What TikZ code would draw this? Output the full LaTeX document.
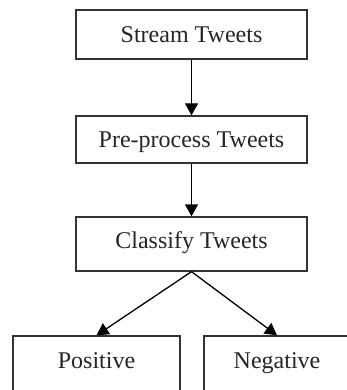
\documentclass[tikz,border=0pt]{standalone}
\usepackage{fontspec}
\setmainfont{Liberation Serif}
\usetikzlibrary{arrows.meta}
\begin{document}
\begin{tikzpicture}[x=1pt,y=-1pt,
  box/.style={draw=black!80,line width=1.3pt,fill=white,inner sep=0pt,
    font=\fontsize{24}{28}\selectfont,text=black!85,text height=16pt,text depth=0pt},
  conn/.style={draw=black,line width=1.3pt,-{Triangle[width=13pt,length=12pt]}}]
\clip (0,0) rectangle (347,390);
\fill[white] (0,0) rectangle (347,390);
\node[box,minimum width=231pt,minimum height=49pt] (a) at (191.5,34.5) {Stream Tweets};
\node[box,minimum width=231pt,minimum height=47pt] (b) at (191.5,139.5) {Pre-process Tweets};
\node[box,minimum width=231pt,minimum height=54pt,text depth=7pt] (c) at (191.5,244) {Classify Tweets};
\node[box,minimum width=167pt,minimum height=56pt,text depth=8pt] (d) at (96.5,364) {Positive};
\node[box,minimum width=146pt,minimum height=56pt,text depth=8pt] (e) at (277,364) {Negative};
\draw[conn] (a.south) -- (b.north);
\draw[conn] (b.south) -- (c.north);
\draw[conn] (c.south) -- (d.north);
\draw[conn] (c.south) -- (e.north);
\end{tikzpicture}
\end{document}
